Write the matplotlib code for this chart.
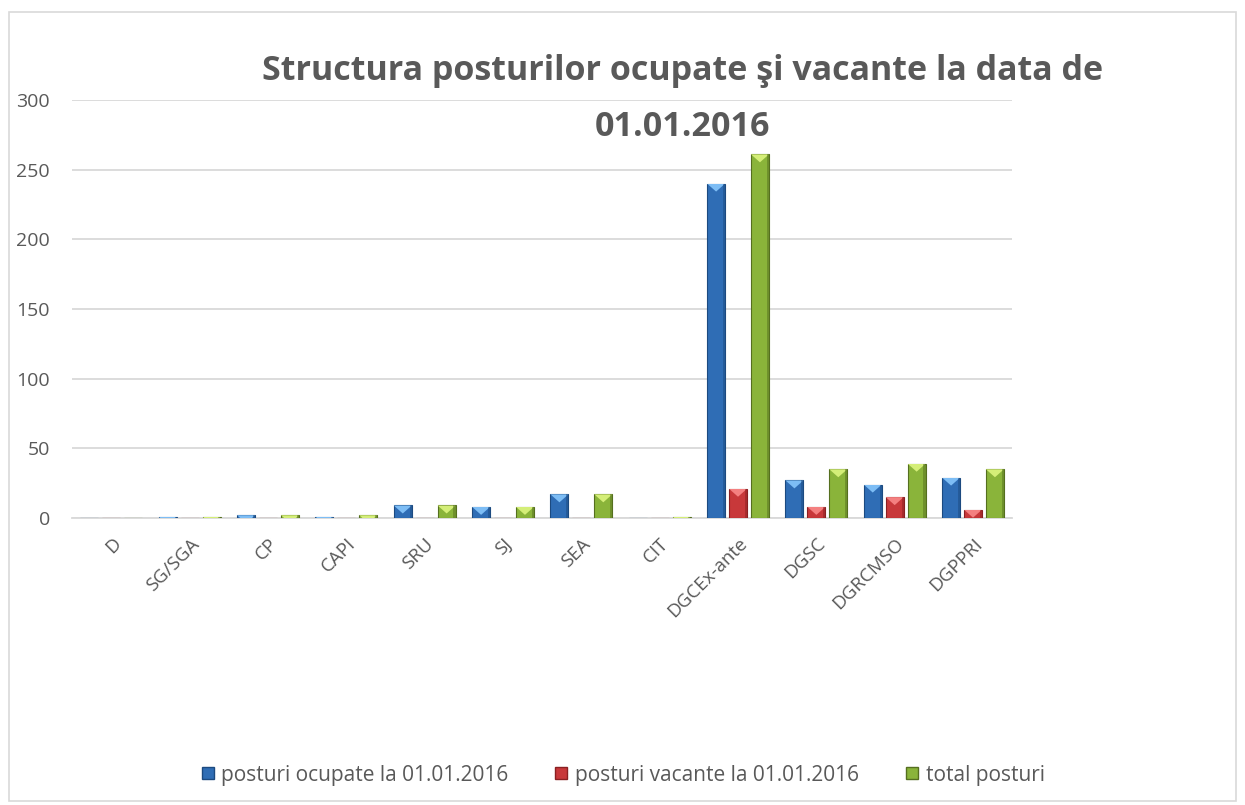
import matplotlib
matplotlib.use("Agg")
import matplotlib.pyplot as plt
from matplotlib.patches import Polygon, Rectangle
from matplotlib.lines import Line2D
import numpy as np

categories = ["D", "SG/SGA", "CP", "CAPI", "SRU", "SJ", "SEA", "CIT",
              "DGCEx-ante", "DGSC", "DGRCMSO", "DGPPRI"]
ocupate = [0, 1, 2, 1, 9, 8, 17, 0, 240, 27, 24, 29]
vacante = [0, 0, 0, 0, 0, 0, 0, 0, 21, 8, 15, 6]
total = [0, 1, 2, 2, 9, 8, 17, 1, 261, 35, 39, 35]
series_names = ["posturi ocupate la 01.01.2016",
                "posturi vacante la 01.01.2016",
                "total posturi"]
y_ticks = [0, 50, 100, 150, 200, 250, 300]

plt.rcParams["font.family"] = ["Open Sans", "DejaVu Sans"]
text_color = "#595959"

fig = plt.figure(figsize=(12.45, 8.05), dpi=100)
fig.patches.append(Rectangle((0.007, 0.005), 0.986, 0.98, transform=fig.transFigure,
                             fill=False, edgecolor="#D9D9D9", linewidth=1.2))

ax = fig.add_axes([0.058, 0.3565, 0.755, 0.5193])
ax.set_ylim(0, 300)
ax.set_xlim(-0.5, len(categories) - 0.5)

styles = [
    ("#2F6DB5", "#1C4A80", "#7DBDF5"),
    ("#C8383A", "#8A2022", "#F48080"),
    ("#8AB43A", "#556F1F", "#D4EE78"),
]
x = np.arange(len(categories))
width = 0.23
step = 0.28
# y extent of the top bevel in data units (about 8 px)
bevel = 8 / (0.5193 * 805) * 300

for i, (vals, (face, edge, light)) in enumerate(zip([ocupate, vacante, total], styles)):
    pos = x + (i - 1) * step
    bars = ax.bar(pos, vals, width, color=face, edgecolor=edge, linewidth=0.8, zorder=3)
    for b, v in zip(bars, vals):
        if v <= 0:
            continue
        x0 = b.get_x()
        x1 = x0 + b.get_width()
        tri = Polygon([(x0, v), (x1, v), ((x0 + x1) / 2, v - bevel)],
                      closed=True, facecolor=light, edgecolor="none", zorder=4)
        ax.add_patch(tri)
        tri.set_clip_path(b)
        # darker shading along the right side
        side = Rectangle((x1 - b.get_width() * 0.12, 0), b.get_width() * 0.12, v,
                         facecolor=edge, alpha=0.5, edgecolor="none", zorder=4)
        ax.add_patch(side)
        side.set_clip_path(b)

ax.set_yticks(y_ticks)
ax.grid(axis="y", color="#D9D9D9", linewidth=1.3, zorder=0)
for s in ["top", "right", "left"]:
    ax.spines[s].set_visible(False)
ax.spines["bottom"].set_color("#D9D9D9")
ax.spines["bottom"].set_linewidth(1.3)
ax.tick_params(axis="y", length=0, labelsize=14, labelcolor=text_color, pad=16)
ax.tick_params(axis="x", length=0, labelsize=13.5, labelcolor=text_color, pad=12)
ax.set_xticks(x)
ax.set_xticklabels(categories, rotation=45, ha="right", rotation_mode="anchor")

fig.text(0.548, 0.912, "Structura posturilor ocupate şi vacante la data de",
         ha="center", va="center", fontsize=24.5, fontweight="bold", color=text_color)
fig.text(0.548, 0.842, "01.01.2016",
         ha="center", va="center", fontsize=24.5, fontweight="bold", color=text_color)

handles = [Line2D([], [], marker="s", linestyle="none", markersize=9,
                  markerfacecolor=face, markeredgecolor=edge)
           for face, edge, _ in styles]
fig.legend(handles, series_names, loc="center", bbox_to_anchor=(0.5, 0.037),
           ncol=3, frameon=False, fontsize=15, labelcolor=text_color,
           handlelength=0.7, handletextpad=0.3, columnspacing=2.2)

fig.savefig("out.png", dpi=100)
